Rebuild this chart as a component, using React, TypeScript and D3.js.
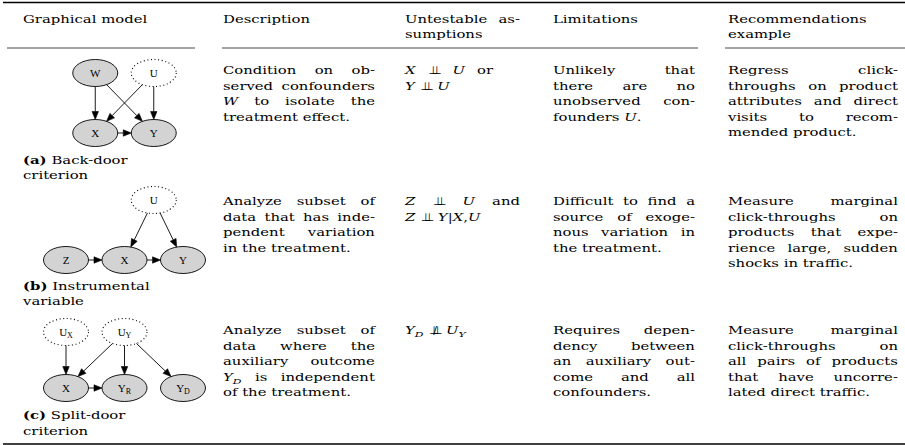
import React from "react";
import * as d3 from "d3";

const width = 905;
const height = 445;
const SERIF = '"DejaVu Serif", serif';
const LABEL_FONT = '"Liberation Serif", serif';
const FS = 11;
const SUB_FS = 8;
const SX = 1.35; // the reference type is stretched sideways
const LH = 15.6;

// ---- table text ----
const headers = [
  ["Graphical model"],
  ["Description"],
  ["Untestable as-", "sumptions"],
  ["Limitations"],
  ["Recommendations", "example"],
];

const captions = [
  ["*(a)* Back-door", "criterion"],
  ["*(b)* Instrumental", "variable"],
  ["*(c)* Split-door", "criterion"],
];

const descriptions = [
  ["Condition on ob-", "served confounders", "$W$ to isolate the", "treatment effect."],
  ["Analyze subset of", "data that has inde-", "pendent variation", "in the treatment."],
  ["Analyze subset of", "data where the", "auxiliary outcome", "$Y_D$ is independent", "of the treatment."],
];

const assumptions = [
  ["$X$ \\indep $U$ or", "$Y$ \\indep $U$"],
  ["$Z$ \\indep $U$ and", "$Z$ \\indep $Y|X,U$"],
  ["$Y_D$ \\nindep $U_Y$"],
];

const limitations = [
  ["Unlikely that", "there are no", "unobserved con-", "founders $U$."],
  ["Difficult to find a", "source of exoge-", "nous variation in", "the treatment."],
  ["Requires depen-", "dency between", "an auxiliary out-", "come and all", "confounders."],
];

const recommendations = [
  ["Regress click-", "throughs on product", "attributes and direct", "visits to recom-", "mended product."],
  ["Measure marginal", "click-throughs on", "products that expe-", "rience large, sudden", "shocks in traffic."],
  ["Measure marginal", "click-throughs on", "all pairs of products", "that have uncorre-", "lated direct traffic."],
];

// ---- graphical models ----
const panels = ["a", "b", "c"];

const nodes = [
  { panel: "a", id: "W", label: "W", sub: "", col: 0.5, row: 0, observed: true },
  { panel: "a", id: "U", label: "U", sub: "", col: 1.5, row: 0, observed: false },
  { panel: "a", id: "X", label: "X", sub: "", col: 0.5, row: 1, observed: true },
  { panel: "a", id: "Y", label: "Y", sub: "", col: 1.5, row: 1, observed: true },
  { panel: "b", id: "U", label: "U", sub: "", col: 1.5, row: 0, observed: false },
  { panel: "b", id: "Z", label: "Z", sub: "", col: 0, row: 1, observed: true },
  { panel: "b", id: "X", label: "X", sub: "", col: 1, row: 1, observed: true },
  { panel: "b", id: "Y", label: "Y", sub: "", col: 2, row: 1, observed: true },
  { panel: "c", id: "UX", label: "U", sub: "X", col: 0, row: 0, observed: false },
  { panel: "c", id: "UY", label: "U", sub: "Y", col: 1, row: 0, observed: false },
  { panel: "c", id: "X", label: "X", sub: "", col: 0, row: 1, observed: true },
  { panel: "c", id: "YR", label: "Y", sub: "R", col: 1, row: 1, observed: true },
  { panel: "c", id: "YD", label: "Y", sub: "D", col: 2, row: 1, observed: true },
];

const edges = [
  ["a", "W", "X"], ["a", "W", "Y"], ["a", "U", "X"], ["a", "U", "Y"], ["a", "X", "Y"],
  ["b", "U", "X"], ["b", "U", "Y"], ["b", "Z", "X"], ["b", "X", "Y"],
  ["c", "UX", "X"], ["c", "UY", "X"], ["c", "UY", "YR"], ["c", "UY", "YD"], ["c", "X", "YR"],
];

// ---- layout ----
const colX = [23, 223, 405, 553, 728];
const colW = [172, 152, 115, 142, 170];
const headerBase = 22.5;
const rowBase = [74, 205, 334];
const captionBase = [163.5, 289.5, 419];
const panelY = { a: [73, 133], b: [200, 260], c: [332, 388] };
const RX = 22.5;
const RY = 13.5;
// math cells: per-line justification width (null = natural spacing)
const mathWidths = [[88, null], [115, null], [null]];

const gx = d3.scaleLinear().domain([0, 2]).range([66, 183]);

const ctx = document.createElement("canvas").getContext("2d");
function measure(t, font) {
  ctx.font = font;
  return ctx.measureText(t).width;
}
const SYM_W = measure("\u22A5", '11px "DejaVu Sans"') + 3.5;

function parseWord(w) {
  if (w === "\\indep") return [{ t: "", sym: "indep" }];
  if (w === "\\nindep") return [{ t: "", sym: "nindep" }];
  const segs = [];
  let math = false;
  let bold = false;
  for (let i = 0; i < w.length; i++) {
    const c = w[i];
    if (c === "$") { math = !math; continue; }
    if (c === "*") { bold = !bold; continue; }
    if (math && c === "_") {
      segs.push({ t: w[i + 1], it: true, bf: false, sub: true });
      i++;
      continue;
    }
    const it = math && /[A-Za-z]/.test(c);
    const last = segs[segs.length - 1];
    if (last && !last.sub && !last.sym && last.it === it && last.bf === bold) last.t += c;
    else segs.push({ t: c, it, bf: bold, sub: false });
  }
  return segs;
}

function segFont(s) {
  return `${s.it ? "italic " : ""}${s.bf ? "bold " : ""}${s.sub ? SUB_FS : FS}px ${SERIF}`;
}

function segWidth(s) {
  if (s.sym) return SYM_W;
  return measure(s.t, segFont(s)) * SX;
}

// returns positioned segments for one line
function layoutLine(line, x, w, justify) {
  const words = line.split(" ").map(parseWord);
  const ws = words.map((segs) => d3.sum(segs, segWidth));
  let gap = measure(" ", `${FS}px ${SERIF}`) * SX;
  if (justify && words.length > 1) gap = Math.max(gap * 0.6, (w - d3.sum(ws)) / (words.length - 1));
  const out = [];
  let cx = x;
  words.forEach((segs) => {
    segs.forEach((s) => {
      out.push({ ...s, x: cx });
      cx += segWidth(s);
    });
    cx += gap;
  });
  return out;
}

function Seg({ s, y }) {
  if (s.sym) {
    return (
      <g transform={`translate(${s.x + 1},${y})`} fontFamily='"DejaVu Sans"' fontSize={11}>
        <text x={0}>{"\u22A5"}</text>
        <text x={3.5}>{"\u22A5"}</text>
        {s.sym === "nindep" && <text x={4.2} fontSize={11}>/</text>}
      </g>
    );
  }
  return (
    <text
      transform={`translate(${s.x},${y + (s.sub ? 3 : 0)}) scale(${SX},1)`}
      fontFamily={SERIF}
      fontSize={s.sub ? SUB_FS : FS}
      fontStyle={s.it ? "italic" : "normal"}
      fontWeight={s.bf ? "bold" : "normal"}
    >
      {s.t}
    </text>
  );
}

// widths: optional per-line override; a number justifies to it, null keeps natural spacing
function Paragraph({ lines, x, w, y, ragged = false, widths = null }) {
  return (
    <g>
      {lines.map((line, i) => {
        let justify = !ragged && i < lines.length - 1;
        let lw = w;
        if (widths) {
          justify = widths[i] != null;
          lw = widths[i] ?? w;
        }
        const segs = layoutLine(line, x, lw, justify);
        return segs.map((s, j) => <Seg key={`${i}-${j}`} s={s} y={y + i * LH} />);
      })}
    </g>
  );
}

function edgeShape(a, b) {
  const dx = b.x - a.x;
  const dy = b.y - a.y;
  const len = Math.hypot(dx, dy);
  const ux = dx / len;
  const uy = dy / len;
  const t = 1 / Math.sqrt((ux / RX) ** 2 + (uy / RY) ** 2);
  const sx = a.x + ux * t;
  const sy = a.y + uy * t;
  const tx = b.x - ux * t;
  const ty = b.y - uy * t;
  const al = 8;
  const hw = 3.2;
  const bx = tx - ux * al;
  const by = ty - uy * al;
  const line = d3.line()([[sx, sy], [bx, by]]);
  const head = d3.line()([[tx, ty], [bx - uy * hw, by + ux * hw], [bx + uy * hw, by - ux * hw]]) + "Z";
  return { line, head };
}

function Graph({ panel }) {
  const gy = d3.scaleLinear().domain([0, 1]).range(panelY[panel]);
  const pn = nodes
    .filter((n) => n.panel === panel)
    .map((n) => ({ ...n, x: gx(n.col), y: gy(n.row) }));
  const byId = new Map(pn.map((n) => [n.id, n]));
  const pe = edges.filter((e) => e[0] === panel).map((e) => edgeShape(byId.get(e[1]), byId.get(e[2])));
  return (
    <g>
      {pn.map((n) => (
        <g key={n.id}>
          <ellipse
            cx={n.x}
            cy={n.y}
            rx={RX}
            ry={RY}
            fill={n.observed ? "#d3d3d3" : "#fff"}
            stroke="#000"
            strokeWidth={n.observed ? 0.9 : 1.1}
            strokeDasharray={n.observed ? null : "1 2.6"}
          />
          <text x={n.x} y={n.y + 3.8} textAnchor="middle" fontFamily={LABEL_FONT} fontSize={11}>
            {n.label}
            {n.sub && (
              <tspan fontSize={8} dy={2}>
                {n.sub}
              </tspan>
            )}
          </text>
        </g>
      ))}
      {pe.map((e, i) => (
        <g key={i}>
          <path d={e.line} stroke="#000" strokeWidth={0.9} fill="none" />
          <path d={e.head} fill="#000" stroke="#000" strokeWidth={0.6} />
        </g>
      ))}
    </g>
  );
}

export default function App() {
  const cols = [descriptions, assumptions, limitations, recommendations];
  return (
    <svg
      width={width}
      height={height}
      style={{ position: "absolute", left: 0, top: 0, background: "#fff" }}
    >
      <rect width={width} height={height} fill="#fff" />
      {/* rules */}
      <line x1={3} x2={905} y1={2.5} y2={2.5} stroke="#000" strokeWidth={1.6} />
      {[[7, 195], [222, 698], [725, 905]].map(([a, b]) => (
        <line key={a} x1={a} x2={b} y1={48} y2={48} stroke="#333" strokeWidth={0.9} />
      ))}
      <line x1={3} x2={905} y1={444} y2={444} stroke="#000" strokeWidth={1.6} />

      {/* header */}
      {headers.map((h, i) => (
        <Paragraph
          key={i}
          lines={h}
          x={colX[i]}
          w={colW[i]}
          y={headerBase}
          ragged={!(h.length > 1 && h[0].endsWith("-"))}
        />
      ))}

      {/* graphs + captions */}
      {panels.map((p, i) => (
        <g key={p}>
          <Graph panel={p} />
          <Paragraph lines={captions[i]} x={colX[0]} w={colW[0]} y={captionBase[i]} ragged />
        </g>
      ))}

      {/* body cells */}
      {rowBase.map((y, r) =>
        cols.map((col, c) => (
          <Paragraph
            key={`${r}-${c}`}
            lines={col[r]}
            x={colX[c + 1]}
            w={colW[c + 1]}
            y={y}
            widths={c === 1 ? mathWidths[r] : null}
          />
        ))
      )}
    </svg>
  );
}
